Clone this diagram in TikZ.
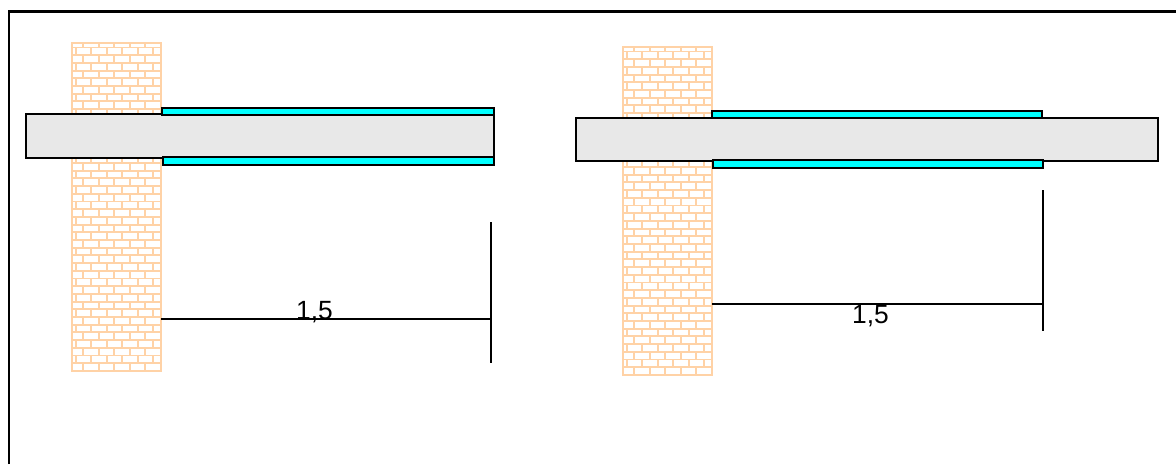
\documentclass[tikz,border=0pt]{standalone}
\usepackage{fontspec}
\setmainfont{Liberation Sans}
\definecolor{brickline}{HTML}{FFD2A6}
\definecolor{beamgray}{HTML}{E8E8E8}
\definecolor{wrapcyan}{HTML}{00FFFF}
\tikzset{
	beam/.style={draw=black, line width=1.1pt, fill=beamgray},
	wrap/.style={draw=black, line width=1.1pt, fill=wrapcyan},
	dimline/.style={line width=0.7pt},
	dimtext/.style={anchor=base, inner sep=0pt, font=\fontsize{15pt}{16pt}\selectfont},
}
\begin{document}
\begin{tikzpicture}[x=0.02cm, y=-0.02cm]
	\useasboundingbox (0,0) rectangle (1176,464);

	\coordinate (FA) at (9,464);
	\coordinate (FB) at (9,11.5);
	\coordinate (FC) at (1176,11.5);
	\draw[line width=1.3pt] (FA) -- (FB) -- (FC);

	% brick walls
	\foreach \wx/\wy in {72/43, 623/47}{
		\begin{scope}[shift={(\wx,\wy)}]
			\begin{scope}
				\clip (0,0) rectangle (89,328);
				\foreach \r in {0,...,42}{
					\pgfmathsetmacro{\rowy}{4.5+7.7*\r}
					\pgfmathsetmacro{\rowoff}{mod(\r,2)==0 ? 11.3 : 3.7}
					\draw[brickline, line width=1.05pt] (0,\rowy) -- (89,\rowy);
					\foreach \k in {0,...,5}{
						\pgfmathsetmacro{\jointx}{\rowoff+15.5*\k}
						\draw[brickline, line width=1.05pt] (\jointx,\rowy) -- (\jointx,\rowy-7.7);
					}
				}
			\end{scope}
			\draw[brickline, line width=1.1pt] (0,0) rectangle (89,328);
		\end{scope}
	}

	% left element
	\draw[beam] (26,114) rectangle (494,158);
	\draw[wrap] (162,108) rectangle (494,115);
	\draw[wrap] (163,157) rectangle (494,165);

	% right element
	\draw[beam] (576,118) rectangle (1158,161);
	\draw[wrap] (712,111) rectangle (1042,118);
	\draw[wrap] (713,160) rectangle (1043,168);

	% dimensions
	\coordinate (LA) at (161,319);
	\coordinate (LB) at (491,319);
	\coordinate (LT) at (491,222);
	\coordinate (LU) at (491,363);
	\draw[dimline] (LA) -- (LB);
	\draw[dimline] (LT) -- (LU);
	\node[dimtext] (dimL) at (314.5,319) {1,5};

	\coordinate (RA) at (712,304);
	\coordinate (RB) at (1043,304);
	\coordinate (RT) at (1043,190);
	\coordinate (RU) at (1043,331);
	\draw[dimline] (RA) -- (RB);
	\draw[dimline] (RT) -- (RU);
	\node[dimtext] (dimR) at (870.5,323) {1,5};
\end{tikzpicture}
\end{document}
